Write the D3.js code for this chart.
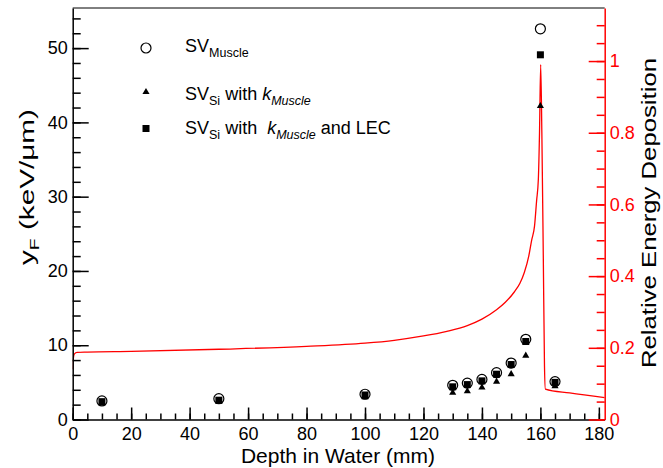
<!DOCTYPE html>
<html>
  <head>
    <meta charset="utf-8">
    <script src="https://d3js.org/d3.v7.min.js"></script>
    <style>
      body { margin:0; background:#fff; }
      svg { font-family: "Liberation Sans", Arial, sans-serif; }
    </style>
  </head>
  <body>
    <script>
      // measurement depths (mm) and yF values (keV/um)
      var depths   = [10, 50, 100, 130, 135, 140, 145, 150, 155, 160, 165];
      var yfMuscle = [2.5, 2.8, 3.4, 4.6, 4.9, 5.4, 6.3, 7.6, 10.8, 52.6, 5.1];
      var yfSi     = [2.2, 2.4, 3.0, 3.6, 3.8, 4.3, 5.1, 6.1, 8.6, 42.2, 4.5];
      var yfSiLec  = [2.4, 2.6, 3.3, 4.4, 4.7, 5.2, 6.1, 7.4, 10.5, 49.1, 5.0];

      // relative energy deposition curve (right axis)
      var ddDepth = [0, 0.2, 0.6, 1.5, 5, 20, 50, 80, 100, 110, 120, 128, 135, 140, 145, 148, 151, 153, 154.5, 156, 157, 158, 158.7, 159.3, 159.7, 160.1, 160.5, 161, 161.4, 161.7, 170, 182];
      var ddRel   = [0.14, 0.17, 0.183, 0.187, 0.188, 0.190, 0.196, 0.204, 0.213, 0.221, 0.233, 0.246, 0.262, 0.280, 0.306, 0.327, 0.355, 0.38, 0.41, 0.455, 0.50, 0.54, 0.61, 0.67, 0.80, 0.99, 0.80, 0.45, 0.15, 0.085, 0.074, 0.061];

      var xMajor = d3.range(0, 181, 20);
      var xMinor = d3.range(0, 181, 5);
      var yMajor = d3.range(0, 51, 10);
      var yMinor = d3.range(0, 55, 2);
      var rMajor = [0, 0.2, 0.4, 0.6, 0.8, 1];
      var rMinor = d3.range(0, 23).map(function(i){ return i * 0.05; });

      var width = 663, height = 468;
      var L = 72.7, R = 604.7, T = 8, B = 419.5;

      var svg = d3.select("body").append("svg")
          .attr("width", width)
          .attr("height", height);

      var x = d3.scaleLinear().domain([0, 182]).range([L, R]);
      var y = d3.scaleLinear().domain([0, 55.4]).range([B, T]);
      var yr = d3.scaleLinear().domain([0, 1.148]).range([B, T]);

      svg.append("clipPath").attr("id", "clip")
        .append("rect").attr("x", L).attr("y", T).attr("width", R - L).attr("height", B - T);

      // top frame line
      svg.append("line")
          .attr("x1", L).attr("x2", R).attr("y1", T).attr("y2", T)
          .attr("stroke", "#000").attr("stroke-width", 1);

      // red curve
      var line = d3.line()
          .x(function(d, i){ return x(ddDepth[i]); })
          .y(function(d, i){ return yr(ddRel[i]); })
          .curve(d3.curveMonotoneX);

      svg.append("path")
          .datum(ddRel)
          .attr("clip-path", "url(#clip)")
          .attr("d", line)
          .attr("fill", "none")
          .attr("stroke", "#ff0000")
          .attr("stroke-width", 1.3);

      // axes
      function styleAxis(g, color){
          g.selectAll("path, line").attr("stroke", color).attr("stroke-width", 1.5);
          g.selectAll("text").attr("fill", color).attr("font-size", 18)
            .attr("font-family", "Liberation Sans, Arial, sans-serif");
      }

      var gx = svg.append("g").attr("transform", "translate(0," + B + ")");
      gx.call(d3.axisBottom(x).tickValues(xMinor).tickSize(-6).tickSizeOuter(0).tickFormat(""));
      gx.append("g").call(d3.axisBottom(x).tickValues(xMajor).tickSize(-12).tickPadding(8).tickFormat(d3.format("d")))
        .select(".domain").remove();
      styleAxis(gx, "#000");

      var gy = svg.append("g").attr("transform", "translate(" + L + ",0)");
      gy.call(d3.axisLeft(y).tickValues(yMinor).tickSize(-8).tickSizeOuter(0).tickFormat(""));
      gy.append("g").call(d3.axisLeft(y).tickValues(yMajor).tickSize(-16).tickPadding(5).tickFormat(d3.format("d")))
        .select(".domain").remove();
      styleAxis(gy, "#000");
      gy.selectAll("text").attr("dy", "0.32em");

      var gr = svg.append("g").attr("transform", "translate(" + R + ",0)");
      gr.call(d3.axisRight(yr).tickValues(rMinor).tickSize(-8).tickSizeOuter(0).tickFormat(""));
      gr.append("g").call(d3.axisRight(yr).tickValues(rMajor).tickSize(-16).tickPadding(5).tickFormat(function(d){ return d3.format("")(+d.toFixed(1)); }))
        .select(".domain").remove();
      styleAxis(gr, "#ff0000");

      // axis titles (vertical ones are drawn stretched, as in the original)
      svg.append("text")
          .attr("x", 338).attr("y", 463)
          .attr("text-anchor", "middle")
          .attr("font-size", 21)
          .text("Depth in Water (mm)");

      var yt = svg.append("text")
          .attr("transform", "translate(34,187) rotate(-90)")
          .attr("text-anchor", "middle")
          .attr("font-size", 20)
          .attr("textLength", 156)
          .attr("lengthAdjust", "spacingAndGlyphs");
      yt.append("tspan").text("y");
      yt.append("tspan").attr("dy", 5).attr("font-size", 13).text("F");
      yt.append("tspan").attr("dy", -5).text(" (keV/\u03bcm)");

      svg.append("text")
          .attr("transform", "translate(656,213) rotate(-90)")
          .attr("text-anchor", "middle")
          .attr("font-size", 20)
          .attr("textLength", 310)
          .attr("lengthAdjust", "spacingAndGlyphs")
          .text("Relative Energy Deposition");

      // markers
      var tri = d3.symbol().type(d3.symbolTriangle).size(22);

      svg.selectAll(".circ")
        .data(depths).enter().append("circle")
          .attr("class", "circ")
          .attr("cx", function(d){ return x(d); })
          .attr("cy", function(d, i){ return y(yfMuscle[i]); })
          .attr("r", 5)
          .attr("fill", "none")
          .attr("stroke", "#000")
          .attr("stroke-width", 1.2);

      svg.selectAll(".tri")
        .data(depths).enter().append("path")
          .attr("class", "tri")
          .attr("transform", function(d, i){ return "translate(" + x(d) + "," + y(yfSi[i]) + ")"; })
          .attr("d", tri)
          .attr("fill", "#000");

      svg.selectAll(".sq")
        .data(depths).enter().append("rect")
          .attr("class", "sq")
          .attr("x", function(d){ return x(d) - 3.5; })
          .attr("y", function(d, i){ return y(yfSiLec[i]) - 3.5; })
          .attr("width", 7).attr("height", 7)
          .attr("fill", "#000");

      // legend
      var lg = svg.append("g").attr("font-size", 18);
      lg.append("circle").attr("cx", 146).attr("cy", 48).attr("r", 5)
        .attr("fill", "none").attr("stroke", "#000").attr("stroke-width", 1.2);
      lg.append("path").attr("transform", "translate(146,92)").attr("d", tri).attr("fill", "#000");
      lg.append("rect").attr("x", 142.5).attr("y", 125).attr("width", 7).attr("height", 7).attr("fill", "#000");

      var t1 = lg.append("text").attr("x", 185).attr("y", 52);
      t1.append("tspan").text("SV");
      t1.append("tspan").attr("dy", 5).attr("font-size", 12.5).text("Muscle");

      var t2 = lg.append("text").attr("x", 185).attr("y", 100);
      t2.append("tspan").text("SV");
      t2.append("tspan").attr("dy", 5).attr("font-size", 12.5).text("Si");
      t2.append("tspan").attr("dy", -5).text(" with ");
      t2.append("tspan").attr("font-style", "italic").text("k");
      t2.append("tspan").attr("dy", 5).attr("font-size", 12.5).attr("font-style", "italic").text("Muscle");

      var t3 = lg.append("text").attr("x", 185).attr("y", 134);
      t3.append("tspan").text("SV");
      t3.append("tspan").attr("dy", 5).attr("font-size", 12.5).text("Si");
      t3.append("tspan").attr("dy", -5).text(" with \u00a0");
      t3.append("tspan").attr("font-style", "italic").text("k");
      t3.append("tspan").attr("dy", 5).attr("font-size", 12.5).attr("font-style", "italic").text("Muscle");
      t3.append("tspan").attr("dy", -5).text(" and LEC");
    </script>
  </body>
</html>
